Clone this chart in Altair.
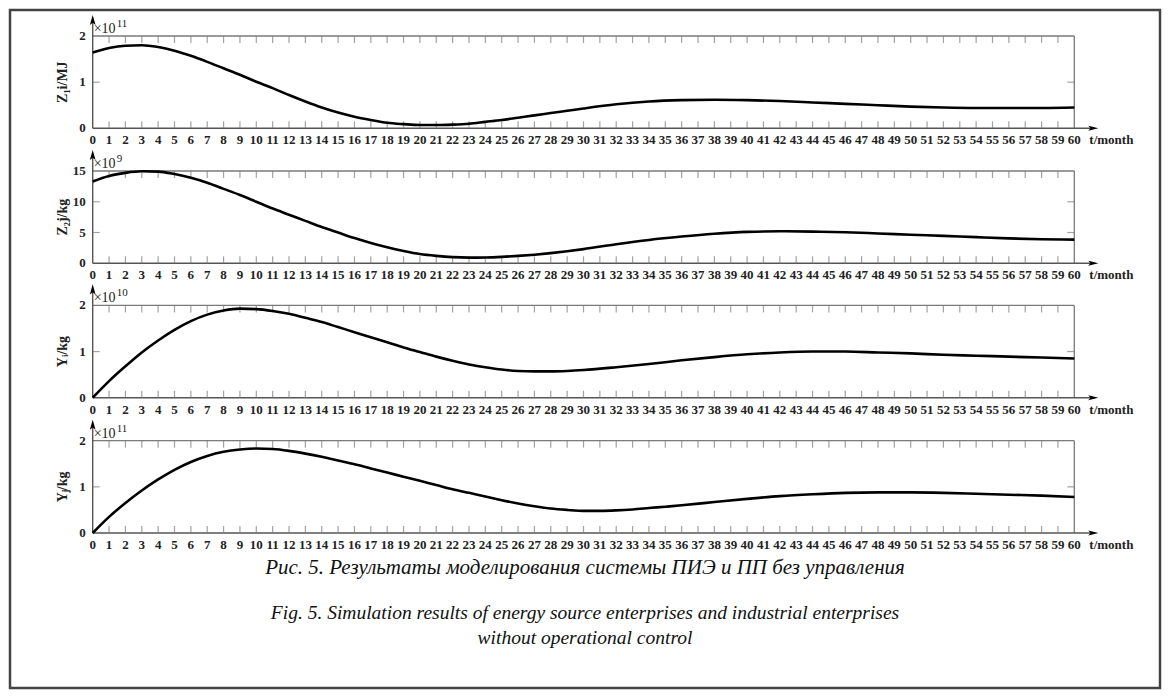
import altair as alt
import pandas as pd

# ---------------- data ----------------
t_z1 = [0,1,2,3,4,5,6,7,8,9,10,11,12,13,14,15,16,17,18,19,20,21,22,23,24,25,26,27,28,29,30,32,34,36,38,40,42,44,46,48,50,52,54,56,58,60]
z1 = [1.64,1.74,1.79,1.80,1.76,1.68,1.57,1.44,1.30,1.16,1.01,0.87,0.72,0.58,0.45,0.34,0.25,0.18,0.12,0.09,0.07,0.07,0.08,0.10,0.14,0.18,0.23,0.28,0.33,0.38,0.43,0.52,0.58,0.61,0.62,0.61,0.59,0.56,0.53,0.50,0.47,0.45,0.44,0.44,0.44,0.45]

t_z2 = [0,1,2,3,4,5,6,7,8,9,10,11,12,13,14,15,16,17,18,19,20,21,22,23,24,25,26,27,28,29,30,32,34,36,38,40,42,44,46,48,50,52,54,56,58,60]
z2 = [13.3,14.2,14.7,14.95,14.9,14.5,13.9,13.1,12.1,11.1,10.0,8.9,7.9,6.9,5.9,5.0,4.1,3.3,2.6,2.0,1.5,1.2,1.0,0.92,0.95,1.05,1.2,1.4,1.65,1.95,2.3,3.1,3.8,4.35,4.8,5.1,5.2,5.15,5.05,4.85,4.65,4.45,4.25,4.05,3.9,3.85]

t_yi = [0,1,2,3,4,5,6,7,8,9,10,11,12,13,14,15,16,17,18,19,20,21,22,23,24,25,26,27,28,29,30,32,34,36,38,40,42,44,46,48,50,52,54,56,58,60]
yi = [0.0,0.36,0.68,0.98,1.24,1.47,1.66,1.80,1.89,1.93,1.92,1.88,1.82,1.73,1.64,1.53,1.42,1.31,1.20,1.09,0.99,0.89,0.80,0.72,0.66,0.61,0.58,0.57,0.57,0.58,0.60,0.66,0.73,0.81,0.88,0.94,0.98,1.0,1.0,0.98,0.96,0.93,0.91,0.89,0.87,0.85]

t_yj = [0,1,2,3,4,5,6,7,8,9,10,11,12,13,14,15,16,17,18,19,20,21,22,23,24,25,26,27,28,29,30,31,32,33,34,35,36,38,40,42,44,46,48,50,52,54,56,58,60]
yj = [0.0,0.35,0.65,0.92,1.16,1.37,1.54,1.67,1.76,1.81,1.83,1.82,1.78,1.72,1.65,1.57,1.49,1.40,1.31,1.22,1.13,1.04,0.95,0.87,0.79,0.71,0.64,0.58,0.53,0.50,0.48,0.48,0.49,0.51,0.54,0.57,0.60,0.67,0.74,0.80,0.84,0.87,0.88,0.88,0.87,0.85,0.83,0.81,0.78]

x_ticks = list(range(0, 61))
x_tick_labels = [str(i) for i in x_ticks]

y_ticks_z1 = [0, 1, 2]
y_ticks_z2 = [0, 5, 10, 15]
y_ticks_yi = [0, 1, 2]
y_ticks_yj = [0, 1, 2]

titles = ["Z\u2081i/MJ", "Z\u2082j/kg", "Y\u1d62/kg", "Y\u2c7c/kg"]
exponents = ["11", "9", "10", "11"]
x_title = "t/month"
captions = [
    "Рис. 5. Результаты моделирования системы ПИЭ и ПП без управления",
    "Fig. 5. Simulation results of energy source enterprises and industrial enterprises",
    "without operational control",
]

# ---------------- layout / style ----------------
W, H = 1150, 678
X_RANGE = [82.7, 1064.3]
PANEL_BOTTOMS = [118.3, 253.3, 387.7, 523.0]
PANEL_H = 92.3
GRAY = "#7a7a7a"
FONT = "Liberation Serif"

UP_ARROW = "M0,-1 L0.45,0.6 L0,0.25 L-0.45,0.6 Z"
RIGHT_ARROW = "M1,0 L-0.6,0.4 L-0.25,0 L-0.6,-0.4 Z"

xs = alt.Scale(domain=[0, 60], range=X_RANGE, nice=False, zero=False)


def panel_layers(t, v, yticks, title, exponent, bottom):
    top = yticks[-1]
    ys = alt.Scale(domain=[0, top], range=[bottom, bottom - PANEL_H], nice=False, zero=False)

    def X(f):
        return alt.X(f, type="quantitative", scale=xs, axis=None)

    def Y(f):
        return alt.Y(f, type="quantitative", scale=ys, axis=None)

    series = pd.DataFrame({"t": t, "v": v})
    frame = pd.DataFrame({"x0": [0], "x1": [60], "y0": [0], "y1": [top], "ym": [top / 2],
                          "title": [title], "exp": [exponent], "xt": [x_title]})
    ticks = pd.DataFrame({"t": x_ticks, "lab": x_tick_labels, "y0": 0, "y1": top})
    inner = pd.DataFrame({"t": x_ticks[1:-1], "y0": 0, "y1": top})
    yt = pd.DataFrame({"v": yticks, "lab": [str(k) for k in yticks], "x0": 0, "x1": 60})
    yt_inner = yt.iloc[1:-1]

    base_f = alt.Chart(frame)
    layers = [
        base_f.mark_rule(color=GRAY, strokeWidth=1.3).encode(x=X("x0"), x2="x1", y=Y("y1")),
        base_f.mark_rule(color=GRAY, strokeWidth=1.3).encode(x=X("x1"), y=Y("y0"), y2="y1"),
        base_f.mark_rule(color="#555", strokeWidth=1.4, x2Offset=20).encode(x=X("x0"), x2="x1", y=Y("y0")),
        base_f.mark_rule(color="#555", strokeWidth=1.4, y2Offset=-17).encode(x=X("x0"), y=Y("y0"), y2="y1"),
        alt.Chart(inner).mark_tick(orient="vertical", size=7, thickness=1.2, color=GRAY, yOffset=-3.5).encode(x=X("t"), y=Y("y0")),
        alt.Chart(inner).mark_tick(orient="vertical", size=7, thickness=1.2, color=GRAY, yOffset=3.5).encode(x=X("t"), y=Y("y1")),
        alt.Chart(yt_inner).mark_tick(orient="horizontal", size=7, thickness=1.2, color=GRAY, xOffset=3.5).encode(x=X("x0"), y=Y("v")),
        alt.Chart(yt_inner).mark_tick(orient="horizontal", size=7, thickness=1.2, color=GRAY, xOffset=-3.5).encode(x=X("x1"), y=Y("v")),
        alt.Chart(series).mark_line(color="black", strokeWidth=2.6, interpolate="monotone").encode(x=X("t"), y=Y("v")),
        alt.Chart(ticks).mark_text(font=FONT, fontWeight="bold", fontSize=13, dy=12, baseline="middle", color="#222").encode(
            x=X("t"), y=Y("y0"), text="lab:N"),
        alt.Chart(yt).mark_text(font=FONT, fontWeight="bold", fontSize=13, dx=-7, align="right", baseline="middle", color="#222").encode(
            x=X("x0"), y=Y("v"), text="lab:N"),
        base_f.mark_text(font=FONT, fontWeight="bold", fontSize=14, angle=270, dy=-30, align="center", baseline="middle", color="#222").encode(
            x=X("x0"), y=Y("ym"), text="title:N"),
        base_f.mark_text(font=FONT, fontSize=14, dx=1, dy=-3, align="left", baseline="alphabetic", color="#222").encode(
            x=X("x0"), y=Y("y1"), text=alt.value("\u00d710")),
        base_f.mark_text(font=FONT, fontSize=11, dx=24, dy=-9, align="left", baseline="alphabetic", color="#222").encode(
            x=X("x0"), y=Y("y1"), text="exp:N"),
        base_f.mark_point(shape=UP_ARROW, size=160, filled=True, color="black", opacity=1, yOffset=-14.75).encode(
            x=X("x0"), y=Y("y1")),
        base_f.mark_point(shape=RIGHT_ARROW, size=160, filled=True, color="black", opacity=1, xOffset=17.75).encode(
            x=X("x1"), y=Y("y0")),
        base_f.mark_text(font=FONT, fontWeight="bold", fontSize=13, dx=15, dy=12, align="left", baseline="middle", color="#222").encode(
            x=X("x1"), y=Y("y0"), text="xt:N"),
    ]
    return layers


layers = []
layers += panel_layers(t_z1, z1, y_ticks_z1, titles[0], exponents[0], PANEL_BOTTOMS[0])
layers += panel_layers(t_z2, z2, y_ticks_z2, titles[1], exponents[1], PANEL_BOTTOMS[1])
layers += panel_layers(t_yi, yi, y_ticks_yi, titles[2], exponents[2], PANEL_BOTTOMS[2])
layers += panel_layers(t_yj, yj, y_ticks_yj, titles[3], exponents[3], PANEL_BOTTOMS[3])

cap_y = [558, 603, 628]
cap_size = [21, 19.5, 19.5]
for txt, cy, fs in zip(captions, cap_y, cap_size):
    layers.append(
        alt.Chart(pd.DataFrame({"c": [txt]})).mark_text(
            font=FONT, fontStyle="italic", fontSize=fs, align="center", baseline="middle", color="#111"
        ).encode(x=alt.value(575), y=alt.value(cy), text="c:N")
    )

chart = (
    alt.layer(*layers)
    .resolve_scale(y="independent")
    .properties(width=W, height=H, padding=2, autosize=alt.AutoSizeParams(type="none"))
    .configure(background="white", view=alt.ViewConfig(stroke="#444", strokeWidth=2.5))
)

chart.save("out.html", embed_options={"renderer": "svg", "actions": False})
